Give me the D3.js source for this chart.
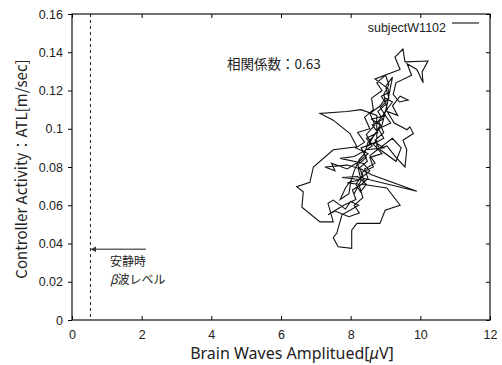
<!DOCTYPE html>
<html>
<head>
<meta charset="utf-8">
<script src="https://cdn.jsdelivr.net/npm/d3@7"></script>
<style>
  body{margin:0;background:#fff;}
  text{fill:#222;}
</style>
</head>
<body>
<svg id="chart" width="502" height="365"></svg>
<script>
// values
var xTicks = [0,2,4,6,8,10,12];
var yTicks = [0,0.02,0.04,0.06,0.08,0.1,0.12,0.14,0.16];
var yTickLabels = ['0','0.02','0.04','0.06','0.08','0.1','0.12','0.14','0.16'];
var restLevel = 0.53;           // dashed line, resting beta level
var arrowFrom = [2.12,0.037], arrowTo = [0.68,0.037];
var seriesName = 'subjectW1102';
var corrText = '相関係数：0.63';

// trajectory [amplitude, ATL]
var trace = [
 [8.10,0.066],[8.30,0.073],[8.22,0.079],[8.48,0.083],[8.36,0.088],[8.62,0.091],[8.45,0.095],
 [8.78,0.098],[8.62,0.102],[8.92,0.105],[8.78,0.109],[9.02,0.113],[8.88,0.117],[9.10,0.119],
 [9.07,0.121],[8.70,0.126],[9.42,0.131],[9.27,0.1375],[9.50,0.1417],[9.56,0.135],[10.22,0.1354],
 [10.05,0.1297],[10.08,0.124],[9.90,0.131],[9.62,0.134],[9.75,0.128],[9.30,0.124],[9.22,0.118],
 [9.40,0.114],[9.65,0.115],[9.42,0.117],[9.20,0.112],[9.35,0.107],[9.05,0.109],[9.25,0.103],
 [9.62,0.0995],[9.70,0.101],[9.80,0.0975],[9.50,0.094],[9.61,0.089],[9.56,0.080],[9.30,0.085],
 [9.04,0.091],[8.75,0.089],[8.75,0.107],[8.30,0.110],[7.89,0.109],[7.12,0.108],[7.50,0.1045],
 [7.98,0.0975],[8.18,0.0906],[7.50,0.089],[6.93,0.080],[6.83,0.072],[6.45,0.0697],[6.64,0.067],
 [6.60,0.059],[7.12,0.0513],[7.50,0.0513],[7.35,0.061],[7.50,0.0627],[7.85,0.058],[8.00,0.062],
 [8.23,0.060],[7.75,0.055],[7.60,0.0453],[7.50,0.043],[7.64,0.0383],[8.03,0.0375],[8.03,0.047],
 [8.18,0.0505],[8.84,0.0505],[8.99,0.0574],[9.42,0.060],[9.04,0.069],[8.47,0.0706],[7.90,0.0716],
 [8.40,0.074],[9.90,0.0673],[8.60,0.076],[8.30,0.079],[7.90,0.081],[7.26,0.080],[7.55,0.078],
 [7.45,0.082],[7.90,0.079],[8.25,0.083],[8.50,0.087],[8.15,0.090],[8.40,0.093],[8.20,0.098],
 [8.55,0.100],[8.40,0.106],[8.65,0.110],[8.60,0.116],[8.90,0.120],[8.75,0.124],[9.00,0.128],
 [9.10,0.123],[8.95,0.118],[9.05,0.110],[8.80,0.104],[8.95,0.098],[8.70,0.094],[8.85,0.089],
 [9.30,0.083],[9.45,0.090],[9.20,0.095],[8.55,0.086],[8.70,0.082],[8.40,0.079],[8.50,0.074],
 [8.25,0.070],[8.35,0.064],[8.10,0.060],[8.25,0.056],[7.95,0.054],[7.55,0.057],[7.35,0.055],
 [7.80,0.060],[8.15,0.063],[8.05,0.068],[8.40,0.072],[8.30,0.077],[8.65,0.080],[8.55,0.085],
 [8.90,0.087],[8.65,0.092],[8.95,0.095],[8.80,0.100],[9.15,0.103],[8.95,0.108],[9.20,0.114],
 [9.00,0.116],[8.85,0.112],[8.55,0.108],[8.70,0.102],[8.45,0.097],[8.60,0.092],[8.30,0.090],
 [8.45,0.085],[8.20,0.081],[8.35,0.076],[8.15,0.071],[8.28,0.067],[8.45,0.071],[8.20,0.075],
 [7.75,0.0745],[8.25,0.0735],[8.55,0.078],[8.35,0.082],[7.70,0.0845],[8.10,0.0855],[8.45,0.089],
 [8.95,0.090],[8.70,0.093],[8.50,0.091],[8.65,0.096],[8.85,0.102],[8.60,0.105],[9.00,0.107],
 [8.85,0.111],[9.10,0.116],[9.00,0.122],[9.20,0.127],[9.05,0.113],[8.90,0.102],[8.70,0.097],
 [8.50,0.093],[8.40,0.087],[8.25,0.084],[8.10,0.078],[8.00,0.072],[7.95,0.066],[7.70,0.063],
 [7.85,0.069],[8.05,0.074]
];

var svg = d3.select('#chart');
var m = {left:72, right:490, top:14, bottom:320};

var x = d3.scaleLinear().domain([0,12]).range([m.left,m.right]);
var y = d3.scaleLinear().domain([0,0.16]).range([m.bottom,m.top]);

var font = '"Liberation Sans", Arial, sans-serif';
var jfont = '"Noto Sans CJK JP", "Noto Sans", sans-serif';

// axes, gnuplot-like with mirrored ticks
svg.append('g').attr('transform','translate(0,'+m.bottom+')')
  .call(d3.axisBottom(x).tickValues(xTicks).tickSize(-4).tickPadding(10).tickFormat(d3.format('d')))
  .call(function(g){g.select('.domain').remove();g.selectAll('text').attr('font-size',12.5).attr('font-family',font).attr('fill','#222');});
svg.append('g').attr('transform','translate(0,'+m.top+')')
  .call(d3.axisTop(x).tickValues(xTicks).tickSize(-4).tickFormat(''))
  .call(function(g){g.select('.domain').remove();});
svg.append('g').attr('transform','translate('+m.left+',0)')
  .call(d3.axisLeft(y).tickValues(yTicks).tickSize(4).tickPadding(5).tickFormat(function(d,i){return yTickLabels[i];}))
  .call(function(g){g.select('.domain').remove();g.selectAll('text').attr('font-size',12.5).attr('font-family',font).attr('fill','#222');});
svg.append('g').attr('transform','translate('+m.right+',0)')
  .call(d3.axisRight(y).tickValues(yTicks).tickSize(-4).tickFormat(''))
  .call(function(g){g.select('.domain').remove();});

svg.append('rect').attr('x',m.left).attr('y',m.top)
  .attr('width',m.right-m.left).attr('height',m.bottom-m.top)
  .attr('fill','none').attr('stroke','#111').attr('stroke-width',1.2);

// resting level
svg.append('line').attr('x1',x(restLevel)).attr('x2',x(restLevel))
  .attr('y1',y(0.16)).attr('y2',y(0))
  .attr('stroke','#222').attr('stroke-dasharray','3,3').attr('stroke-width',1);

// arrow + note
svg.append('defs').append('marker').attr('id','ah')
  .attr('viewBox','0 0 10 10').attr('refX',1).attr('refY',5)
  .attr('markerWidth',3.5).attr('markerHeight',3.5).attr('orient','auto')
  .append('path').attr('d','M0,0 L10,5 L0,10 z').attr('fill','#333');
svg.append('line').attr('x1',x(arrowFrom[0])).attr('y1',y(arrowFrom[1]))
  .attr('x2',x(arrowTo[0])).attr('y2',y(arrowTo[1]))
  .attr('stroke','#666').attr('stroke-width',1.6).attr('marker-end','url(#ah)');
svg.append('text').attr('x',110).attr('y',266).attr('font-size',12).attr('font-family',jfont).text('安静時');
var t2 = svg.append('text').attr('x',110).attr('y',284).attr('font-size',12).attr('font-family',jfont);
t2.append('tspan').attr('font-style','italic').text('β');
t2.append('tspan').text('波レベル');

// trajectory
svg.append('path').datum(trace)
  .attr('d',d3.line().x(function(d){return x(d[0]);}).y(function(d){return y(d[1]);}))
  .attr('fill','none').attr('stroke','#111').attr('stroke-width',1.1).attr('stroke-linejoin','miter');

// legend
svg.append('text').attr('x',446).attr('y',32).attr('text-anchor','end')
  .attr('font-size',12.5).attr('font-family',font).text(seriesName);
svg.append('line').attr('x1',452).attr('x2',479).attr('y1',23).attr('y2',23)
  .attr('stroke','#111').attr('stroke-width',1.1);

svg.append('text').attr('x',227).attr('y',69).attr('font-size',13.5).attr('font-family',jfont).text(corrText);

// axis titles
var xt = svg.append('text').attr('x',292).attr('y',359).attr('text-anchor','middle')
  .attr('font-size',16).attr('font-family','"Noto Sans", sans-serif');
xt.append('tspan').text('Brain Waves Amplitued[');
xt.append('tspan').attr('font-style','italic').text('μ');
xt.append('tspan').text('V]');

svg.append('text').attr('transform','translate(27,169) rotate(-90)').attr('text-anchor','middle')
  .attr('font-size',15).attr('font-family',jfont).text('Controller Activity：ATL[m/sec]');
</script>
</body>
</html>
